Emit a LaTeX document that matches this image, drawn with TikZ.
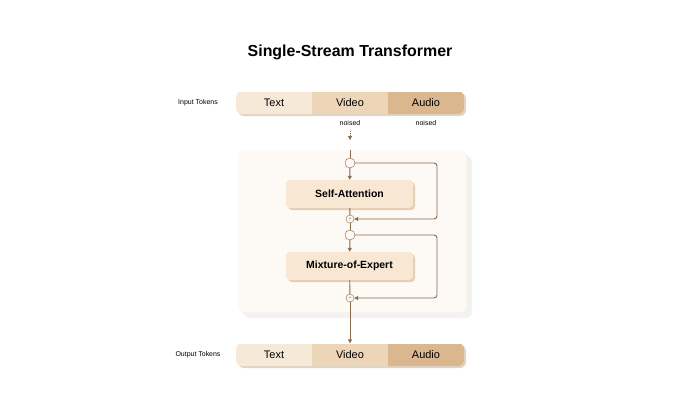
\documentclass[tikz,border=0pt]{standalone}
\usepackage{fontspec}
\setmainfont{Liberation Sans}
\usetikzlibrary{positioning,arrows.meta}
\definecolor{tokA}{HTML}{F7E9D7}
\definecolor{tokB}{HTML}{EDD6B8}
\definecolor{tokC}{HTML}{DAB78F}
\definecolor{blockfill}{HTML}{F8E8D3}
\definecolor{panelfill}{HTML}{FDF9F4}
\definecolor{flow}{HTML}{8A6A4C}
\begin{document}
\begin{tikzpicture}[
	x=1bp, y=-1bp,
	tok/.style={
		minimum width=76bp,
		minimum height=23bp,
		inner sep=0pt,
		font=\fontsize{11}{12}\selectfont
		},
	block/.style={
		rectangle,
		rounded corners=4bp,
		fill=blockfill,
		minimum width=127bp,
		minimum height=28bp,
		font=\bfseries\fontsize{10.5}{12}\selectfont
		},
	lbl/.style={
		font=\fontsize{7}{8}\selectfont
		},
	junc/.style={
		circle,
		draw=flow,
		fill=panelfill,
		inner sep=0pt
		},
	flowline/.style={
		draw=flow,
		line width=0.9bp
		},
	arr/.style={
		-{Triangle[length=4bp,width=4bp]}
		}
]
\useasboundingbox (0,0) rectangle (700,415);

% Title
\node [font=\bfseries\fontsize{16}{18}\selectfont] (title) at (350,52) {Single-Stream Transformer};

% Backdrop panel
\fill [black!5, rounded corners=6bp] (244,156) rectangle (472,318);
\fill [black!3!panelfill, rounded corners=6bp] (241,153) rectangle (469,315);
\fill [panelfill, rounded corners=6bp] (238,150) rectangle (466,312);

% Token rows
\foreach \row/\y in {in/103, out/355} {
	\fill [tokC!80!black!40, rounded corners=6bp] (238,\y-10) rectangle (466,\y+13);
	\begin{scope}
		\clip [rounded corners=6bp] (236,\y-12) rectangle (464,\y+11);
		\node [tok, fill=tokA] (\row Text) at (274,\y) {Text};
		\node [tok, fill=tokB] (\row Video) at (350,\y) {Video};
		\node [tok, fill=tokC] (\row Audio) at (426,\y) {Audio};
	\end{scope}
}
\node [lbl] (Input Tokens) at (198,103) {Input Tokens};
\node [lbl] (Output Tokens) at (198,355) {Output Tokens};
\node [lbl] (noised V) at (350,123) {noised};
\node [lbl] (noised A) at (426,123) {noised};

% Blocks
\fill [tokC!70, rounded corners=4bp] (288,182) rectangle (415,210);
\node [block] (SA) at (349.5,194) {Self-Attention};
\fill [tokC!70, rounded corners=4bp] (288,254) rectangle (415,282);
\node [block] (MoE) at (349.5,266) {Mixture-of-Expert};

% Junctions
\node [junc, minimum size=10bp] (split1) at (350,163) {};
\node [junc, minimum size=8bp, font=\fontsize{5}{5}\selectfont, text=flow] (add1) at (350,219) {+};
\node [junc, minimum size=10bp] (split2) at (350,235) {};
\node [junc, minimum size=8bp, font=\fontsize{5}{5}\selectfont, text=flow] (add2) at (350,298) {+};
\coordinate (top) at (350,150);
\coordinate (nz) at (350,131);
\coordinate (nzend) at (350,140);

% Flow
\draw [flowline, densely dotted, arr] (nz) -- (nzend);
\draw [flowline] (top) -- (split1);
\draw [flowline, arr] (split1) -- (SA);
\draw [flowline] (SA) -- (add1);
\draw [flowline] (add1) -- (split2);
\draw [flowline, arr] (split2) -- (MoE);
\draw [flowline] (MoE) -- (add2);
\draw [flowline, arr] (add2) -- (outVideo.north);
\draw [flowline, arr, rounded corners=3bp] (split1.east) -- (437,163) -- (437,219) -- (add1.east);
\draw [flowline, arr, rounded corners=3bp] (split2.east) -- (437,235) -- (437,298) -- (add2.east);
\end{tikzpicture}
\end{document}
